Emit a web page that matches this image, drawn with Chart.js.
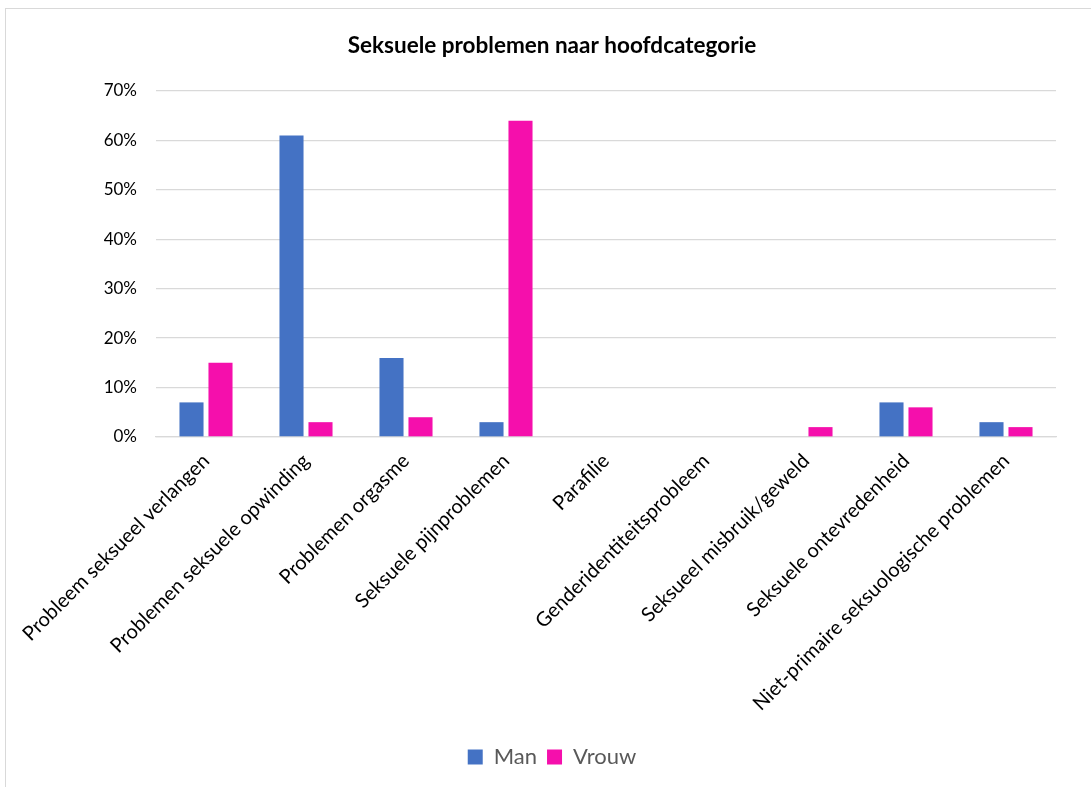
<!DOCTYPE html>
<html>
<head>
<meta charset="utf-8">
<script src="https://cdn.jsdelivr.net/npm/chart.js@4.4.0/dist/chart.umd.min.js"></script>
<style>
  html, body { margin: 0; padding: 0; background: #fff; }
  #vak { position: absolute; left: 0; top: 0; width: 1091px; height: 787px; }
  #rand {
    position: absolute; left: 5px; top: 8px; width: 1090px; height: 785px;
    border: 1px solid #d9d9d9; box-sizing: border-box; pointer-events: none;
  }
</style>
</head>
<body>
<div id="vak"><canvas id="grafiek"></canvas></div>
<div id="rand"></div>
<script>
// categorieen en waarden (in procenten)
const categorieen = [
  "Probleem seksueel verlangen",
  "Problemen seksuele opwinding",
  "Problemen orgasme",
  "Seksuele pijnproblemen",
  "Parafilie",
  "Genderidentiteitsprobleem",
  "Seksueel misbruik/geweld",
  "Seksuele ontevredenheid",
  "Niet-primaire seksuologische problemen"
];
const man   = [7, 61, 16, 3, 0, 0, 0, 7, 3];
const vrouw = [15, 3, 4, 64, 0, 0, 2, 6, 2];
const yTicks = [0, 10, 20, 30, 40, 50, 60, 70];

const lettertype = "Lato, 'Open Sans', sans-serif";

const ctx = document.getElementById("grafiek").getContext("2d");
new Chart(ctx, {
  type: "bar",
  data: {
    labels: categorieen,
    datasets: [
      { label: "Man", data: man, backgroundColor: "#4472c4",
        categoryPercentage: 0.58, barPercentage: 0.83 },
      { label: "Vrouw", data: vrouw, backgroundColor: "#f50fac",
        categoryPercentage: 0.58, barPercentage: 0.83 }
    ]
  },
  options: {
    responsive: true,
    maintainAspectRatio: false,
    animation: false,
    layout: { padding: { left: 13, right: 0, top: 0, bottom: 9 } },
    plugins: {
      title: {
        display: true,
        text: "Seksuele problemen naar hoofdcategorie",
        color: "#000",
        font: { family: lettertype, size: 22.5, weight: "bold", lineHeight: 1.2 },
        padding: { top: 32, bottom: 32 }
      },
      legend: {
        position: "bottom",
        labels: {
          color: "#595959",
          font: { family: lettertype, size: 22 },
          boxWidth: 15, boxHeight: 15, padding: 10
        }
      },
      tooltip: { enabled: false }
    },
    scales: {
      x: {
        grid: { display: false },
        border: { color: "#d9d9d9", width: 1.3 },
        afterFit: ax => { ax.height = 299; },
        ticks: {
          color: "#000",
          font: { family: lettertype, size: 20 },
          minRotation: 45, maxRotation: 45, autoSkip: false, padding: 4
        }
      },
      y: {
        min: 0, max: 70,
        afterBuildTicks: ax => { ax.ticks = yTicks.map(v => ({ value: v })); },
        afterFit: ax => { ax.width = 143; },
        grid: { color: "#d9d9d9", lineWidth: 1.3, drawTicks: false },
        border: { display: false },
        ticks: {
          color: "#000",
          font: { family: lettertype, size: 17 },
          padding: 19,
          callback: v => v + "%"
        }
      },
      // lege as rechts, alleen voor de ruimte naast het plotgebied
      yRechts: {
        position: "right",
        min: 0, max: 70,
        afterFit: ax => { ax.width = 35; },
        grid: { display: false },
        border: { display: false },
        ticks: { display: false }
      }
    }
  }
});
</script>
</body>
</html>
